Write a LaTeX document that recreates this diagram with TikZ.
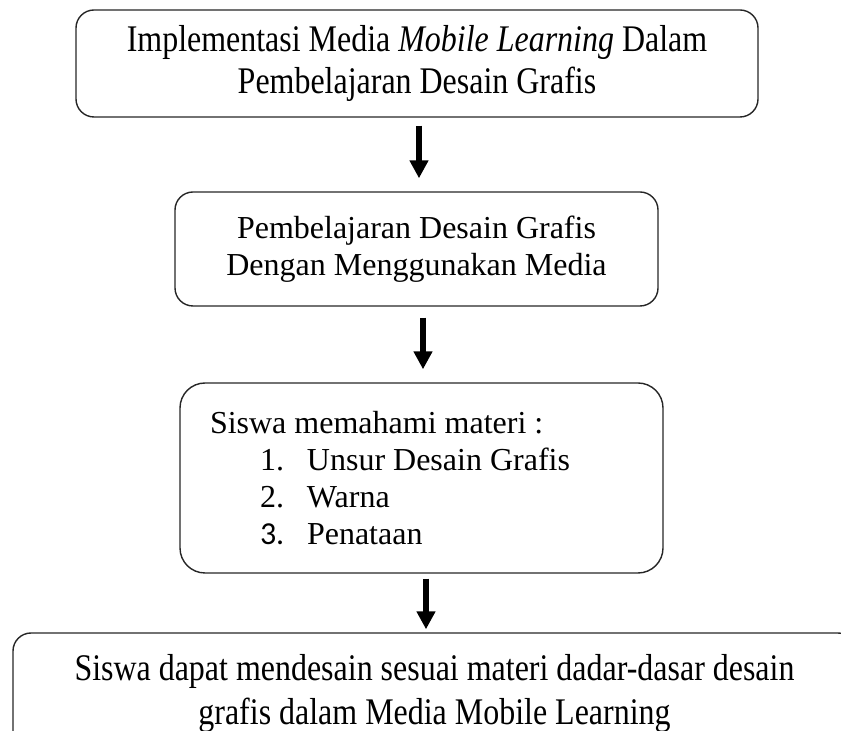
\documentclass[tikz,border=0pt]{standalone}
\usepackage{fontspec}
\setmainfont{Liberation Serif}
\newfontfamily\narrowserif{Liberation Serif}[FakeStretch=0.85]
\newfontfamily\calibri{Carlito}
\usetikzlibrary{arrows.meta}
\tikzset{
	box/.style={draw=black!85, line width=0.7pt, rounded corners=9pt, inner sep=0pt},
	flow/.style={line width=3pt, -{Triangle[length=9pt,width=9pt]}}
}
\newcommand{\materiitem}[2]{\hspace*{25pt}\makebox[23.5pt][l]{#1}#2}

\begin{document}
\begin{tikzpicture}[x=0.5pt,y=-0.5pt]
	\clip (0,0) rectangle (841,731);
	\node[box, minimum width=341pt, minimum height=53.5pt, align=center, font=\narrowserif\fontsize{18.8}{21}\selectfont] (implementasi) at (417,63.5) {Implementasi Media \textit{Mobile Learning} Dalam\\Pembelajaran Desain Grafis};
	\node[box, minimum width=241.5pt, minimum height=57pt, align=center, font=\fontsize{16}{18.5}\selectfont] (pembelajaran) at (416.5,249) {Pembelajaran Desain Grafis\\Dengan Menggunakan Media};
	\node[box, rounded corners=12.5pt, minimum width=241.5pt, minimum height=95pt, inner xsep=15pt, text width=211.5pt, align=flush left, font=\fontsize{16}{18.5}\selectfont] (materi) at (421.5,478) {Siswa memahami materi :\\\materiitem{1.}{Unsur Desain Grafis}\\\materiitem{2.}{Warna}\\\materiitem{{\calibri 3.}}{Penataan}};
	\node[box, minimum width=421.5pt, minimum height=61pt, align=center, font=\narrowserif\fontsize{18.8}{22}\selectfont] (hasil) at (434.5,694) {Siswa dapat mendesain sesuai materi dadar-dasar desain\\grafis dalam Media Mobile Learning};

	% arrows
	\draw[flow] ([xshift=1pt,yshift=-4pt]implementasi.south) -- ([xshift=1.25pt,yshift=6.5pt]pembelajaran.north);
	\draw[flow] ([xshift=3.25pt,yshift=-5.5pt]pembelajaran.south) -- ([xshift=0.75pt,yshift=6.5pt]materi.north);
	\draw[flow] ([xshift=2.25pt,yshift=-2.5pt]materi.south) -- ([xshift=-4.25pt,yshift=1.5pt]hasil.north);
\end{tikzpicture}
\end{document}
